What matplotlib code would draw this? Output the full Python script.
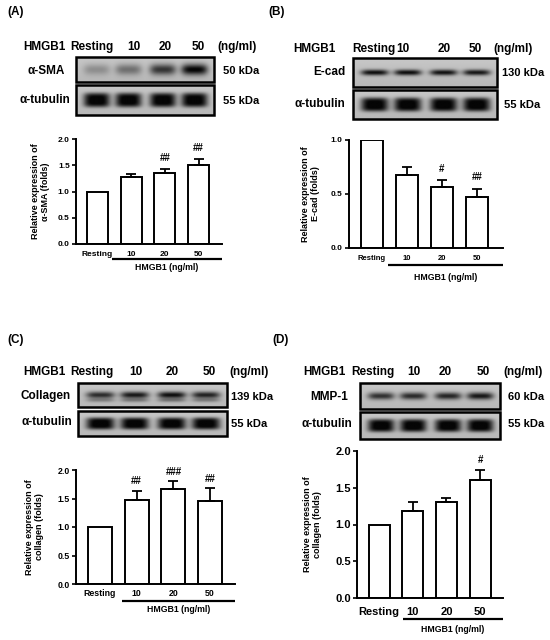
import numpy as np
import matplotlib
matplotlib.use("Agg")
import matplotlib.pyplot as plt
from matplotlib.patches import Rectangle

plt.rcParams['font.family'] = ['Liberation Sans', 'DejaVu Sans']
plt.rcParams['font.weight'] = 'bold'

# ---------------- data ----------------
categories = ["Resting", "10", "20", "50"]
group_label = "HMGB1 (ng/ml)"

sma_values = [1.00, 1.28, 1.35, 1.50]
sma_errors = [0.0, 0.06, 0.08, 0.11]
sma_marks = ["", "", "##", "##"]

ecad_values = [1.00, 0.675, 0.565, 0.47]
ecad_errors = [0.0, 0.075, 0.065, 0.08]
ecad_marks = ["", "", "#", "##"]

col_values = [1.00, 1.48, 1.67, 1.46]
col_errors = [0.0, 0.16, 0.14, 0.22]
col_marks = ["", "##", "###", "##"]

mmp_values = [1.00, 1.19, 1.31, 1.60]
mmp_errors = [0.0, 0.11, 0.05, 0.14]
mmp_marks = ["", "", "", "#"]

# band darkness of the blots (visual only)
sma_bands = [0.25, 0.40, 0.70, 0.95]
ecad_bands = [0.90, 0.90, 0.88, 0.86]
col_bands = [0.75, 0.85, 0.90, 0.80]
mmp_bands = [0.72, 0.75, 0.78, 0.85]
tub_bands = [0.99, 0.99, 0.99, 0.99]

W, H = 550, 640
fig = plt.figure(figsize=(5.5, 6.4), dpi=100)
ov = fig.add_axes([0, 0, 1, 1])
ov.set_axis_off()


def txt(x, y, s, size=8.5, ha='left', **kw):
    ov.text(x, y, s, fontsize=size, ha=ha, va='center', fontweight='bold', **kw)


def blot(box, bands, band_h, lane_pos=(0.15, 0.38, 0.63, 0.86), bg=0.78,
         double=False, ypow=2):
    x0, y0, x1, y1 = box
    nx, ny = 300, 60
    xx = np.linspace(0, 1, nx)[None, :]
    yy = np.linspace(0, 1, ny)[:, None]
    img = np.full((ny, nx), bg) - 0.06 * yy
    for lp, b in zip(lane_pos, bands):
        prof_x = np.exp(-((xx - lp) / 0.095) ** 4)
        prof_y = np.exp(-np.abs((yy - 0.5) / band_h) ** ypow)
        img = img - b * bg * prof_x * prof_y
        if double:
            prof_y2 = np.exp(-((yy - 0.72) / (band_h * 0.6)) ** 2)
            img = img - 0.35 * b * bg * prof_x * prof_y2
    img = np.clip(img, 0.02, 1)
    ov.imshow(img, cmap='gray', vmin=0, vmax=1, extent=(x0, x1, y1, y0),
              aspect='auto', interpolation='bilinear', zorder=1)
    ov.add_patch(Rectangle((x0, y0), x1 - x0, y1 - y0, fill=False,
                           edgecolor='black', linewidth=1.8, zorder=2))


def bar_panel(box, c0, s, vals, errs, marks, ymax, yticks, tick_fs, ytick_fs,
              ylab, ylab_x, line_start, line_dy, lab_dy, tick_dy, bw_px, mark_off):
    left, top, right, bottom = box
    ax = fig.add_axes([left / W, 1 - bottom / H, (right - left) / W, (bottom - top) / H])
    x = np.arange(len(vals))
    xl = -(c0 - left) / s
    xr = 3 + (right - (c0 + 3 * s)) / s
    ax.bar(x, vals, width=bw_px / s, color='white', edgecolor='black',
           linewidth=1.4, zorder=2)
    lo = np.zeros(len(vals))
    idx = [i for i in range(len(vals)) if errs[i] > 0]
    ax.errorbar(x[idx], np.array(vals)[idx], yerr=[lo[idx], np.array(errs)[idx]],
                fmt='none', ecolor='black', elinewidth=1.3, capsize=3.5,
                capthick=1.3, zorder=3)
    for i, m in enumerate(marks):
        if m:
            ax.annotate(m, (x[i], vals[i] + errs[i]), xytext=(0, mark_off),
                        textcoords='offset points', ha='center', va='center',
                        fontsize=7, fontweight='bold')
    ax.set_xlim(xl, xr)
    ax.set_ylim(0, ymax)
    ax.set_yticks(yticks)
    ax.set_yticklabels([f"{t:.1f}" for t in yticks], fontsize=ytick_fs, fontweight='bold')
    ax.set_xticks([])
    for sp in ['top', 'right']:
        ax.spines[sp].set_visible(False)
    for sp in ['left', 'bottom']:
        ax.spines[sp].set_linewidth(1.4)
    ax.tick_params(axis='y', direction='out', length=3, width=1.2, pad=1.5)
    hpx = bottom - top
    wpx = right - left
    tr = ax.get_xaxis_transform()
    for i, c in enumerate(categories):
        ax.text(x[i], -tick_dy / hpx, c, transform=tr, ha='center', va='center',
                fontsize=tick_fs, fontweight='bold')
    ax.plot([line_start, xr], [-line_dy / hpx] * 2, transform=tr, color='black',
            linewidth=1.6, clip_on=False, solid_capstyle='butt')
    ax.text((line_start + xr) / 2, -lab_dy / hpx, group_label, transform=tr,
            ha='center', va='center', fontsize=6.3, fontweight='bold')
    ax.set_ylabel(ylab, fontsize=6.5, fontweight='bold', linespacing=1.15)
    ax.yaxis.set_label_coords((ylab_x - left) / wpx, 0.5)
    return ax


# ---------------- Panel A ----------------
txt(7, 12, "(A)", 8.5)
txt(23, 47, "HMGB1", 8.5)
txt(70, 47, "Resting", 8.5)
txt(134, 47, "10", 8.5, ha='center')
txt(165, 47, "20", 8.5, ha='center')
txt(198, 47, "50", 8.5, ha='center')
txt(217, 47, "(ng/ml)", 8.5)
txt(65, 71, "α-SMA", 8.5, ha='right')
txt(70, 100, "α-tubulin", 8.5, ha='right')
txt(223, 71, "50 kDa", 8)
txt(223, 101, "55 kDa", 8)
blot((76, 57, 214, 82), sma_bands, 0.22)
blot((76, 85, 214, 115), tub_bands, 0.24, ypow=4)
bar_panel((76, 139, 222, 244), 97.5, 33.7, sma_values, sma_errors, sma_marks,
          2.0, [0, 0.5, 1.0, 1.5, 2.0], 6, 6,
          "Relative expression of\nα-SMA (folds)", 50, 0.43, 15, 24, 11, 21, 8)

# ---------------- Panel B ----------------
txt(268, 12, "(B)", 8.5)
txt(293, 49, "HMGB1", 8.5)
txt(352, 49, "Resting", 8.5)
txt(403, 49, "10", 8.5, ha='center')
txt(444, 49, "20", 8.5, ha='center')
txt(475, 49, "50", 8.5, ha='center')
txt(493, 49, "(ng/ml)", 8.5)
txt(345, 72, "E-cad", 8.5, ha='right')
txt(345, 104, "α-tubulin", 8.5, ha='right')
txt(502, 73, "130 kDa", 8)
txt(504, 105, "55 kDa", 8)
blot((353, 58, 497, 87), ecad_bands, 0.10)
blot((353, 90, 497, 119), tub_bands, 0.24, ypow=4)
bar_panel((349, 140, 503, 248), 372, 35, ecad_values, ecad_errors, ecad_marks,
          1.0, [0, 0.5, 1.0], 5.5, 6,
          "Relative expression of\nE-cad (folds)", 320, 0.46, 17, 29, 10, 22, 8)

# ---------------- Panel C ----------------
txt(7, 340, "(C)", 8.5)
txt(23, 372, "HMGB1", 8.5)
txt(70, 372, "Resting", 8.5)
txt(136, 372, "10", 8.5, ha='center')
txt(172, 372, "20", 8.5, ha='center')
txt(209, 372, "50", 8.5, ha='center')
txt(229, 372, "(ng/ml)", 8.5)
txt(71, 396, "Collagen", 8.5, ha='right')
txt(72, 422, "α-tubulin", 8.5, ha='right')
txt(231, 397, "139 kDa", 8)
txt(231, 424, "55 kDa", 8)
blot((78, 383, 227, 407), col_bands, 0.14, double=True)
blot((78, 411, 227, 436), tub_bands, 0.24, ypow=4)
bar_panel((76, 470, 235, 584), 100, 36.7, col_values, col_errors, col_marks,
          2.0, [0, 0.5, 1.0, 1.5, 2.0], 6.3, 6.3,
          "Relative expression of\ncollagen (folds)", 44, 0.6, 17, 26, 9, 24, 6.5)

# ---------------- Panel D ----------------
txt(272, 340, "(D)", 8.5)
txt(303, 372, "HMGB1", 8.5)
txt(351, 372, "Resting", 8.5)
txt(414, 372, "10", 8.5, ha='center')
txt(445, 372, "20", 8.5, ha='center')
txt(483, 372, "50", 8.5, ha='center')
txt(503, 372, "(ng/ml)", 8.5)
txt(348, 397, "MMP-1", 8.5, ha='right')
txt(352, 424, "α-tubulin", 8.5, ha='right')
txt(508, 397, "60 kDa", 8)
txt(508, 424, "55 kDa", 8)
blot((360, 383, 500, 409), mmp_bands, 0.14)
blot((360, 412, 500, 439), tub_bands, 0.24, ypow=4)
bar_panel((357, 451, 503, 598), 379, 33.7, mmp_values, mmp_errors, mmp_marks,
          2.0, [0, 0.5, 1.0, 1.5, 2.0], 8, 8,
          "Relative expression of\ncollagen (folds)", 322, 0.71, 21, 31, 14, 21, 7.5)

ov.set_xlim(0, W)
ov.set_ylim(H, 0)

fig.savefig("out.png", dpi=100, facecolor='white')
